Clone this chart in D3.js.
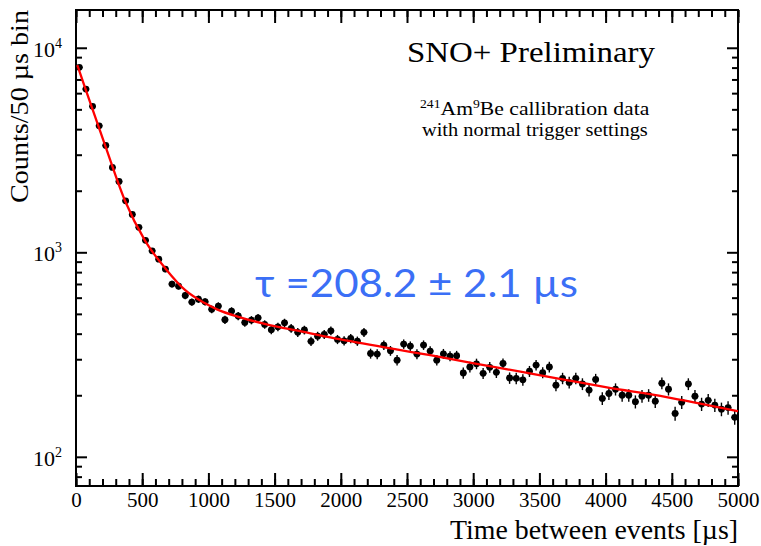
<!DOCTYPE html>
<html>
<head>
<meta charset="utf-8">
<script src="https://cdn.jsdelivr.net/npm/d3@7"></script>
<style>
body { margin: 0; background: #fff; }
text { font-family: 'Liberation Serif', 'Times New Roman', serif; }
</style>
</head>
<body>
<script>
// histogram: counts per 50 us bin, 0..5000 us
var binWidth = 50
var counts = [
	8020, 6280, 5170, 4155, 3330, 2600, 2220, 1786, 1532, 1324,
	1144, 1017, 926, 828, 699, 683, 615, 571, 590, 573,
	526, 546, 468, 516, 488, 454, 466, 478, 444, 418,
	432, 452, 425, 406, 417, 367, 389, 397, 413, 375,
	369, 379, 368, 406, 320, 318, 352, 330, 297, 356,
	348, 318, 352, 329, 297, 319, 311, 312, 257, 275,
	285, 256, 274, 259, 286, 243, 242, 238, 262, 281,
	258, 275, 224, 242, 231, 242, 227, 212, 239, 193,
	204, 214, 200, 200, 186, 198, 200, 187, 229, 214,
	163, 185, 227, 198, 181, 189, 179, 171, 174, 156
]
var binCenters = counts.map(function(d, i){ return binWidth * i + binWidth / 2 })

// red fit curve
var fitT = [10, 70, 220, 370, 520, 675, 825, 975, 1065, 1240, 1440, 1690, 2000, 2420, 2675, 2975, 3440, 3695, 4000, 4460, 4715, 5000]
var fitV = [8230, 6330, 3330, 1786, 1144, 834, 653, 563, 526, 481, 444, 412, 375, 335, 314, 289, 255, 238, 219, 196, 182, 167]

// ticks
var xTicks = [0, 500, 1000, 1500, 2000, 2500, 3000, 3500, 4000, 4500, 5000]
var yTicks = [100, 1000, 10000]
var yExps = ['2', '3', '4']
var yMinor = [80, 90, 200, 300, 400, 500, 600, 700, 800, 900, 2000, 3000, 4000, 5000, 6000, 7000, 8000, 9000]

var body = d3.select('body')

var svg = body.append('svg')
	.attr('width', 761)
	.attr('height', 546)

var pLeft = 76, pRight = 738, pTop = 10, pBottom = 486

var x = d3.scaleLinear().domain([0, 5000]).range([pLeft, pRight])
var y = d3.scaleLog().domain([72, 15300]).range([pBottom, pTop])

function styleAxis(g) {
	g.select('.domain').remove()
	g.selectAll('line').attr('stroke', '#000').attr('stroke-width', 2)
	g.attr('font-family', null).attr('font-size', 21)
	g.selectAll('text').attr('fill', '#000')
}

//x axis bottom
var xMinor = d3.range(0, 5001, 100)
svg.append('g')
	.attr('transform', 'translate(0,' + pBottom + ')')
	.call(d3.axisBottom(x).tickValues(xMinor).tickSize(-7).tickFormat(''))
	.call(styleAxis)
svg.append('g')
	.attr('transform', 'translate(0,' + pBottom + ')')
	.call(d3.axisBottom(x).tickValues(xTicks).tickSize(-13).tickPadding(6).tickFormat(d3.format('d')))
	.call(styleAxis)

//x axis top
svg.append('g')
	.attr('transform', 'translate(0,' + pTop + ')')
	.call(d3.axisTop(x).tickValues(xMinor).tickSize(-7).tickFormat(''))
	.call(styleAxis)
svg.append('g')
	.attr('transform', 'translate(0,' + pTop + ')')
	.call(d3.axisTop(x).tickValues(xTicks).tickSize(-13).tickFormat(''))
	.call(styleAxis)

//y axis left
svg.append('g')
	.attr('transform', 'translate(' + pLeft + ',0)')
	.call(d3.axisLeft(y).tickValues(yMinor).tickSize(-6).tickFormat(''))
	.call(styleAxis)
var yAxisL = svg.append('g')
	.attr('transform', 'translate(' + pLeft + ',0)')
	.call(d3.axisLeft(y).tickValues(yTicks).tickSize(-11).tickPadding(14))
	.call(styleAxis)

yAxisL.selectAll('text').each(function(d, i){
	var t = d3.select(this)
	t.text('').attr('dy', '0.38em').attr('font-size', 22)
	t.append('tspan').text('10')
	t.append('tspan').attr('dy', -9).attr('font-size', 14).text(yExps[i])
})

//y axis right
svg.append('g')
	.attr('transform', 'translate(' + pRight + ',0)')
	.call(d3.axisRight(y).tickValues(yMinor).tickSize(-6).tickFormat(''))
	.call(styleAxis)
svg.append('g')
	.attr('transform', 'translate(' + pRight + ',0)')
	.call(d3.axisRight(y).tickValues(yTicks).tickSize(-11).tickFormat(''))
	.call(styleAxis)

//frame
svg.append('rect')
	.attr('x', pLeft).attr('y', pTop)
	.attr('width', pRight - pLeft).attr('height', pBottom - pTop)
	.attr('fill', 'none')
	.attr('stroke', '#000')
	.attr('stroke-width', 2)

//data points
var pts = svg.append('g')

pts.selectAll('.ey').data(counts).enter().append('line')
	.attr('x1', function(d, i){ return x(binCenters[i]) })
	.attr('x2', function(d, i){ return x(binCenters[i]) })
	.attr('y1', function(d){ return y(d + Math.sqrt(d)) })
	.attr('y2', function(d){ return y(d - Math.sqrt(d)) })
	.attr('stroke', '#000')
	.attr('stroke-width', 1.4)

pts.selectAll('.ex').data(counts).enter().append('line')
	.attr('x1', function(d, i){ return x(binCenters[i] - binWidth / 2) })
	.attr('x2', function(d, i){ return x(binCenters[i] + binWidth / 2) })
	.attr('y1', function(d){ return y(d) })
	.attr('y2', function(d){ return y(d) })
	.attr('stroke', '#000')
	.attr('stroke-width', 1.4)

pts.selectAll('circle').data(counts).enter().append('circle')
	.attr('cx', function(d, i){ return x(binCenters[i]) })
	.attr('cy', function(d){ return y(d) })
	.attr('r', 3.4)
	.attr('fill', '#000')

//fit
var fitLine = d3.line()
	.x(function(d){ return x(d[0]) })
	.y(function(d){ return y(d[1]) })
	.curve(d3.curveMonotoneX)

svg.append('path')
	.datum(fitT.map(function(t, i){ return [t, fitV[i]] }))
	.attr('d', fitLine)
	.attr('fill', 'none')
	.attr('stroke', '#ff0000')
	.attr('stroke-width', 2.3)

//titles
svg.append('text')
	.attr('x', pRight).attr('y', 539)
	.attr('text-anchor', 'end')
	.attr('font-size', 27)
	.attr('textLength', 288).attr('lengthAdjust', 'spacingAndGlyphs')
	.text('Time between events [\u00b5s]')

svg.append('text')
	.attr('transform', 'translate(28,10) rotate(-90)')
	.attr('text-anchor', 'end')
	.attr('font-size', 26)
	.attr('textLength', 193).attr('lengthAdjust', 'spacingAndGlyphs')
	.text('Counts/50 \u00b5s bin')

svg.append('text')
	.attr('x', 407).attr('y', 62)
	.attr('font-size', 30)
	.attr('textLength', 248).attr('lengthAdjust', 'spacingAndGlyphs')
	.text('SNO+ Preliminary')

//source lines, stretched to the picture's width
var l1 = svg.append('text')
	.attr('font-size', 19)
l1.append('tspan').attr('font-size', 12).attr('dy', -7).text('241')
l1.append('tspan').attr('dy', 7).text('Am')
l1.append('tspan').attr('font-size', 12).attr('dy', -7).text('9')
l1.append('tspan').attr('dy', 7).text('Be callibration data')
var l2 = svg.append('text')
	.attr('font-size', 19)
	.text('with normal trigger settings')

function stretch(sel, x0, y0, w) {
	var bw = sel.node().getBBox().width
	sel.attr('transform', 'translate(' + x0 + ',' + y0 + ') scale(' + (w / bw) + ',1)')
}
stretch(l1, 420, 115, 230)
stretch(l2, 422, 136, 226)

svg.append('text')
	.attr('x', 255).attr('y', 297)
	.style('font-family', 'Lato, "Open Sans", sans-serif')
	.attr('font-size', 38)
	.attr('fill', '#3b6ff6')
	.attr('textLength', 323).attr('lengthAdjust', 'spacingAndGlyphs')
	.text('\u03c4 =208.2 \u00b1 2.1 \u00b5s')
</script>
</body>
</html>
